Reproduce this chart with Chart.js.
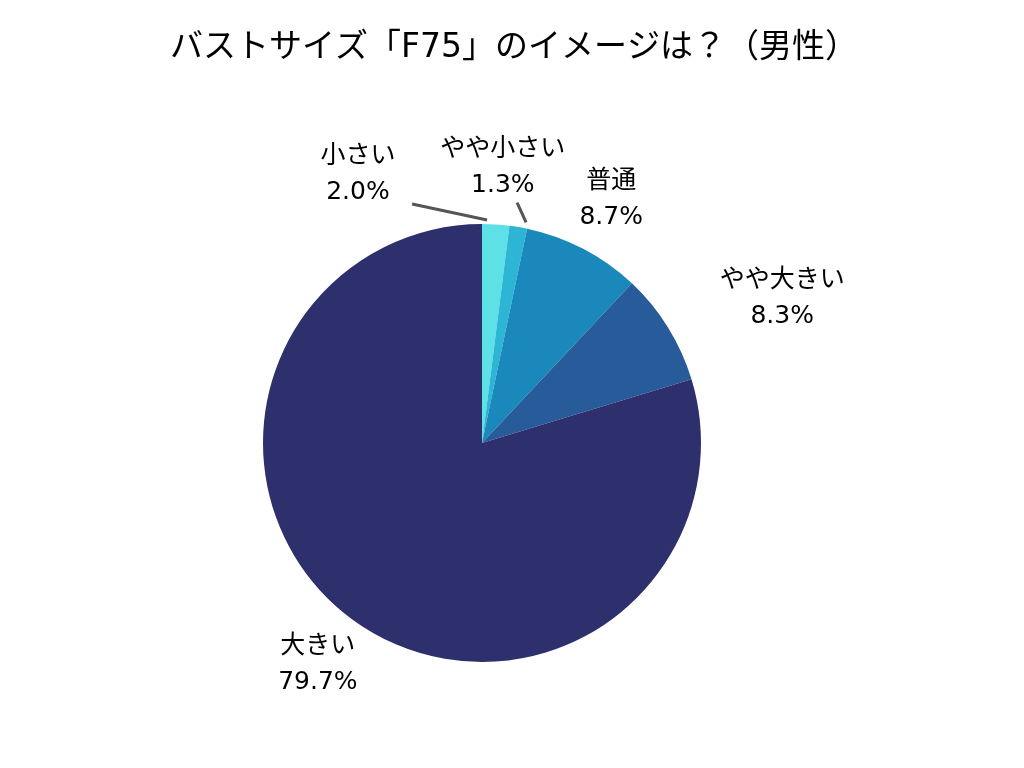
<!DOCTYPE html>
<html>
<head>
<meta charset="utf-8">
<script src="https://cdn.jsdelivr.net/npm/chart.js@4"></script>
<style>
  html, body { margin: 0; padding: 0; background: #fff; }
  #wrap { width: 1024px; height: 768px; }
</style>
</head>
<body>
<div id="wrap"><canvas id="chart" width="1024" height="768"></canvas></div>
<script>
const chartTitle = "バストサイズ「F75」のイメージは？（男性）";
const categories = ["小さい", "やや小さい", "普通", "やや大きい", "大きい"];
const shares = [2.0, 1.3, 8.7, 8.3, 79.7];
const sliceColors = ["#5de0e6", "#2db5d6", "#1b88bb", "#275b9a", "#2e2f6d"];

// where each label sits: angle (deg from top, clockwise) and distance from centre
const labelLayout = [
  { angle: -24.6, dist: 298, leader: [1.3, 223, -16.3, 249] },
  { angle: 4.3, dist: 278, leader: [11.3, 225, 8.3, 243] },
  { angle: 27.8, dist: 277 },
  { angle: 64.0, dist: 334 },
  { angle: 216.8, dist: 274 }
];

const FONT = '"DejaVu Sans", "Noto Sans CJK JP", sans-serif';

const labelPlugin = {
  id: "outerLabels",
  afterDraw(chart) {
    const ctx = chart.ctx;
    const arc = chart.getDatasetMeta(0).data[0];
    const cx = arc.x, cy = arc.y;
    const pt = (deg, d) => {
      const a = deg * Math.PI / 180;
      return [cx + d * Math.sin(a), cy - d * Math.cos(a)];
    };
    ctx.save();
    // title
    ctx.fillStyle = "#000";
    ctx.font = "33px " + FONT;
    ctx.textAlign = "center";
    ctx.textBaseline = "middle";
    ctx.fillText(chartTitle, 514, 48);

    ctx.font = "25px " + FONT;
    categories.forEach((name, i) => {
      const lay = labelLayout[i];
      if (lay.leader) {
        const [a1, d1, a2, d2] = lay.leader;
        const p1 = pt(a1, d1), p2 = pt(a2, d2);
        ctx.strokeStyle = "#555555";
        ctx.lineWidth = 3;
        ctx.beginPath();
        ctx.moveTo(p1[0], p1[1]);
        ctx.lineTo(p2[0], p2[1]);
        ctx.stroke();
      }
      const [x, y] = pt(lay.angle, lay.dist);
      ctx.fillStyle = "#000";
      ctx.fillText(name, x, y - 16);
      ctx.fillText(shares[i].toFixed(1) + "%", x, y + 20);
    });
    ctx.restore();
  }
};

new Chart(document.getElementById("chart"), {
  type: "pie",
  data: {
    labels: categories,
    datasets: [{
      data: shares,
      backgroundColor: sliceColors,
      borderWidth: 0
    }]
  },
  options: {
    responsive: false,
    animation: false,
    layout: { padding: { top: 224, bottom: 106, left: 263, right: 323 } },
    plugins: {
      legend: { display: false },
      title: { display: false },
      tooltip: { enabled: false }
    }
  },
  plugins: [labelPlugin]
});
</script>
</body>
</html>
